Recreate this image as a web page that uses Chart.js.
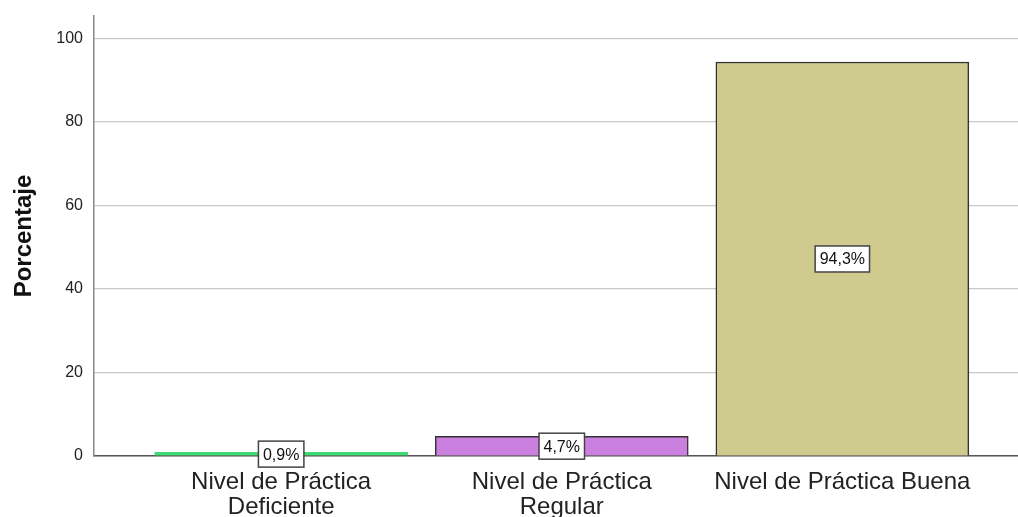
<!DOCTYPE html>
<html>
<head>
<meta charset="utf-8">
<script src="https://cdn.jsdelivr.net/npm/chart.js@4/dist/chart.umd.min.js"></script>
<style>
  html, body { margin: 0; padding: 0; background: #fff; }
  #wrap { width: 1018px; height: 517px; }
</style>
</head>
<body>
<div id="wrap"><canvas id="myChart"></canvas></div>
<script>
// datos
const categorias = [['Nivel de Práctica', 'Deficiente'], ['Nivel de Práctica', 'Regular'], 'Nivel de Práctica Buena'];
const posiciones = [1, 2, 3];
const porcentajes = [0.9, 4.7, 94.3];
const etiquetas = ['0,9%', '4,7%', '94,3%'];
const ticksY = [0, 20, 40, 60, 80, 100];
const colores = ['#3ddc72', '#cb7fdf', '#cfca8e'];
const bordes = ['#3ddc72', '#333333', '#333333'];

// etiquetas en cajas blancas, centradas en la mitad de la barra
const cajas = {
    id: 'cajas',
    afterDatasetsDraw(chart) {
        const ctx = chart.ctx;
        const y = chart.scales.y;
        const meta = chart.getDatasetMeta(0);
        ctx.save();
        ctx.font = '16px "Liberation Sans", Arial, sans-serif';
        ctx.textAlign = 'center';
        ctx.textBaseline = 'middle';
        meta.data.forEach((bar, i) => {
            const cx = bar.x;
            const cy = y.getPixelForValue(porcentajes[i] / 2);
            const w = ctx.measureText(etiquetas[i]).width + 9;
            const h = 26;
            ctx.fillStyle = '#fff';
            ctx.fillRect(cx - w / 2, cy - h / 2, w, h);
            ctx.strokeStyle = '#444';
            ctx.lineWidth = 1.5;
            ctx.strokeRect(cx - w / 2, cy - h / 2, w, h);
            ctx.fillStyle = '#111';
            ctx.fillText(etiquetas[i], cx, cy + 1);
        });
        ctx.restore();
    }
};

const config = {
    type: 'bar',
    data: {
        datasets: [{
            data: posiciones.map((p, i) => ({ x: p, y: porcentajes[i] })),
            backgroundColor: colores,
            borderColor: bordes,
            borderWidth: 1.5,
            barThickness: 253
        }]
    },
    options: {
        responsive: true,
        maintainAspectRatio: false,
        animation: false,
        layout: { padding: { top: 16, left: 0, right: 0, bottom: 0 } },
        plugins: {
            legend: { display: false },
            tooltip: { enabled: false }
        },
        scales: {
            x: {
                type: 'linear',
                offset: false,
                bounds: 'data',
                min: 0.333,
                max: 3.626,
                grid: { display: false, drawTicks: false, offset: false },
                border: { color: '#555', width: 1.5 },
                afterBuildTicks(scale) {
                    scale.ticks = posiciones.map(v => ({ value: v }));
                },
                afterFit(scale) {
                    scale.height = 61;
                    scale.paddingLeft = 0;
                    scale.paddingRight = 0;
                },
                ticks: {
                    autoSkip: false,
                    maxRotation: 0,
                    padding: 14,
                    color: '#222',
                    font: { family: '"Liberation Sans", Arial, sans-serif', size: 24, lineHeight: 1.05 },
                    callback: (v) => categorias[posiciones.indexOf(v)]
                }
            },
            y: {
                min: 0,
                max: 105.3,
                grid: { color: '#c8c8c8', lineWidth: 1.2, drawTicks: false },
                border: { color: '#888', width: 1.5 },
                afterBuildTicks(scale) {
                    scale.ticks = ticksY.map(v => ({ value: v }));
                },
                afterFit(scale) {
                    scale.width = 94;
                    scale.paddingTop = 0;
                    scale.paddingBottom = 0;
                },
                ticks: {
                    padding: 11,
                    color: '#222',
                    font: { family: '"Liberation Sans", Arial, sans-serif', size: 16 }
                },
                title: {
                    display: true,
                    text: 'Porcentaje',
                    color: '#111',
                    padding: { top: 10, bottom: 0 },
                    font: { family: '"Liberation Sans", Arial, sans-serif', size: 24, weight: 'bold' }
                }
            }
        }
    },
    plugins: [cajas]
};

const ctx = document.querySelector('#myChart').getContext('2d');
new Chart(ctx, config);
</script>
</body>
</html>
